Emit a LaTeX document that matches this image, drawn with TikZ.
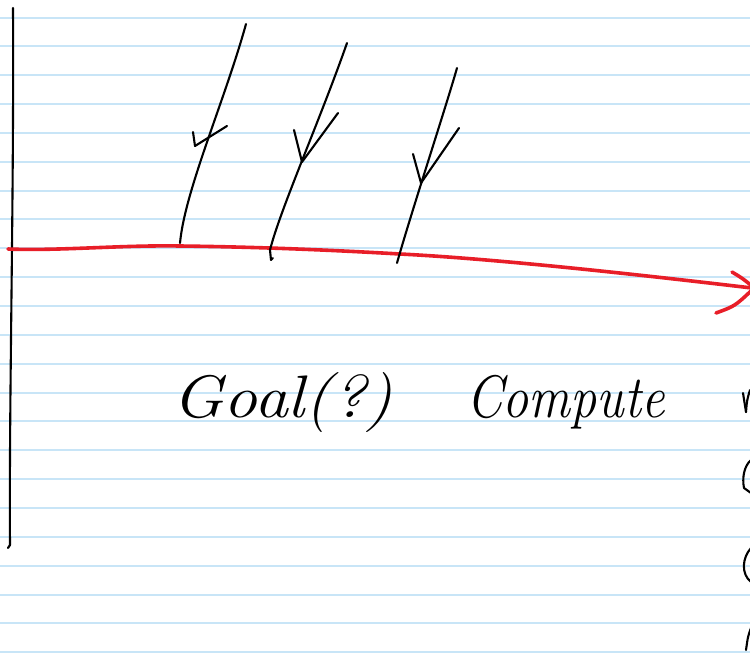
\documentclass[tikz,border=0pt]{standalone}
\usepackage{fontspec}
\usepackage{graphicx}
\definecolor{ruleblue}{RGB}{200,229,247}
\definecolor{penred}{RGB}{232,30,40}
\begin{document}
\begin{tikzpicture}[x=1pt,y=-1pt,
  ruled/.style={ruleblue,line width=2pt},
  ink/.style={black,line width=2.1pt,line cap=round,line join=round},
  redink/.style={penred,line width=3.6pt,line cap=round,line join=round},
  hand/.style={inner sep=0pt,font=\itshape\fontsize{60}{64}\selectfont}]
\useasboundingbox (0,0) rectangle (750,664);
\fill[white] (0,0) rectangle (750,664);
% ruled paper
\foreach \k in {0,...,22}{
  \draw[ruled] (0,{17.5+28.85*\k}) -- (750,{17.5+28.85*\k});
}
% margin line
\draw[ink] (13,8) .. controls (14,200) and (9,400) .. (10,545) -- (8,548);
% red time axis with arrow
\draw[redink] (8,249) .. controls (60,251) and (120,245) .. (180,246)
  .. controls (260,247) and (330,250) .. (400,254)
  .. controls (500,259) and (650,276) .. (752,288);
\draw[redink] (732,272) .. controls (742,278) .. (752,286);
\draw[redink] (716,313) .. controls (735,306) .. (752,290);
% incoming arrows
\draw[ink] (246,24) .. controls (225,100) and (185,190) .. (180,243);
\draw[ink] (193,132) -- (195,146) -- (227,126);
\draw[ink] (347,43) .. controls (320,120) and (280,210) .. (270,250) -- (271,260) -- (273,258);
\draw[ink] (294,130) -- (302,162) -- (338,113);
\draw[ink] (457,68) .. controls (445,110) and (412,210) .. (397,263);
\draw[ink] (413,154) -- (421,183) -- (459,128);
% text
\node[hand,anchor=base west] (goal) at (172,417) {\scalebox{1.13}[1]{Goal(?)}};
\node[hand,anchor=base west] (compute) at (466,417) {\scalebox{0.87}[1]{Compute}};
% cut-off fragments at right edge
\draw[ink] (743,393) .. controls (744,402) .. (746,412);
\draw[ink] (746,412) .. controls (747,400) .. (750,390);
\draw[ink] (751,460) .. controls (744,466) and (742,478) .. (744,488) -- (751,493);
\draw[ink] (751,548) .. controls (742,558) and (741,574) .. (751,582);
\draw[ink] (751,628) .. controls (748,636) .. (746,650);
\end{tikzpicture}
\end{document}
